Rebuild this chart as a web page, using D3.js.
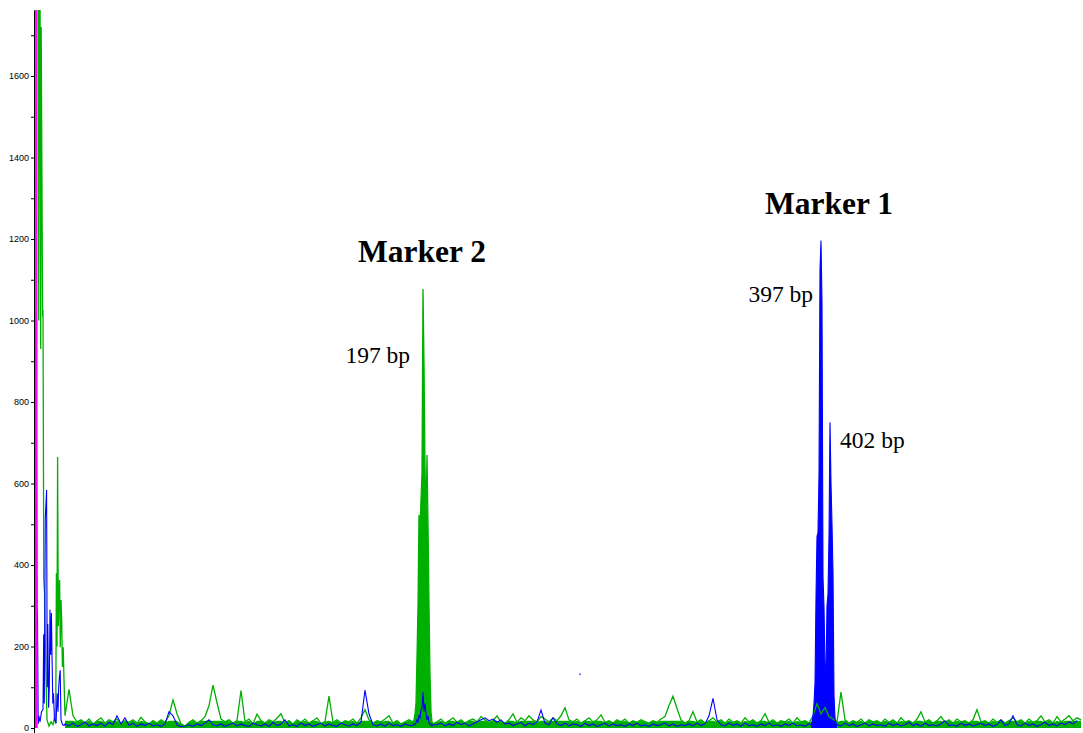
<!DOCTYPE html>
<html>
<head>
<meta charset="utf-8">
<script src="https://cdn.jsdelivr.net/npm/d3@7"></script>
<style>
body { margin: 0; background: #fff; }
svg { display: block; }
</style>
</head>
<body>
<div id="chart"></div>
<script>
// Electropherogram: marker peaks in green and blue dye channels

// Y axis ticks (RFU)
var yTicks = d3.range(0, 1800, 100);
var yMax = 1762;
var scanMax = 1048;

// Baseline noise, one reading every NOISE_STEP scans starting at NOISE_START
var NOISE_START = 30;
var NOISE_STEP = 4;
var greenNoise = [
	30, 95, 30, 15, 20, 12, 22, 10, 18, 25, 12, 20, 15, 22, 10, 18, 14, 20, 12, 26,
	15, 10, 18, 12, 20, 14, 30, 69, 35, 10, 5, 14, 20, 12, 18, 28, 55, 105, 62, 22,
	15, 20, 12, 18, 92, 15, 22, 10, 34, 18, 12, 20, 15, 24, 35, 12, 18, 10, 20, 14,
	22, 12, 18, 25, 10, 16, 78, 14, 20, 12, 18, 15, 22, 12, 25, 45, 20, 12, 18, 15,
	22, 30, 12, 18, 10, 15, 20, 15, 60, 600, 500, 130, 10, 15, 22, 12, 18, 25, 14, 20,
	12, 18, 22, 15, 28, 20, 14, 18, 30, 15, 12, 20, 35, 14, 25, 18, 30, 20, 15, 28,
	22, 15, 25, 18, 30, 50, 20, 15, 22, 12, 18, 25, 15, 20, 32, 14, 18, 12, 20, 15,
	22, 12, 18, 14, 20, 16, 12, 18, 14, 22, 28, 55, 78, 48, 20, 12, 18, 40, 15, 20,
	12, 18, 25, 15, 20, 12, 22, 14, 18, 12, 25, 15, 20, 12, 18, 35, 14, 20, 12, 18,
	15, 22, 12, 25, 15, 18, 12, 30, 60, 35, 50, 28, 22, 15, 88, 20, 12, 18, 14, 22,
	12, 20, 15, 18, 12, 22, 14, 20, 12, 25, 15, 18, 12, 22, 40, 15, 20, 12, 18, 28,
	14, 20, 12, 22, 15, 18, 12, 20, 45, 15, 18, 12, 22, 14, 20, 12, 18, 25, 15, 20,
	12, 22, 14, 18, 30, 15, 20, 12, 28, 15, 22, 30, 18, 25, 20
];
var blueNoise = [
	10, 5, 12, 4, 8, 15, 5, 10, 6, 12, 4, 14, 8, 30, 10, 25, 6, 12, 4, 10,
	6, 12, 5, 8, 4, 10, 40, 30, 8, 3, 5, 8, 4, 10, 6, 12, 20, 8, 5, 10,
	4, 8, 12, 5, 10, 6, 4, 12, 8, 5, 10, 4, 14, 6, 10, 20, 5, 8, 4, 12,
	6, 10, 4, 8, 12, 5, 10, 6, 4, 12, 8, 5, 10, 6, 15, 93, 35, 8, 5, 10,
	4, 12, 6, 8, 4, 10, 6, 12, 30, 40, 20, 8, 6, 8, 12, 5, 10, 6, 14, 8,
	12, 5, 10, 15, 20, 25, 18, 22, 14, 20, 10, 12, 6, 10, 14, 5, 12, 8, 15, 44,
	12, 8, 25, 10, 6, 12, 5, 10, 8, 4, 12, 6, 10, 4, 8, 12, 5, 10, 6, 8,
	4, 10, 6, 12, 5, 8, 4, 10, 6, 8, 12, 5, 10, 4, 8, 6, 10, 5, 12, 6,
	10, 30, 73, 20, 8, 5, 12, 6, 10, 4, 12, 6, 8, 4, 10, 6, 12, 5, 8, 4,
	10, 6, 12, 5, 8, 4, 10, 60, 900, 300, 600, 20, 8, 10, 5, 12, 6, 10, 4, 8,
	12, 5, 10, 6, 8, 4, 12, 6, 10, 5, 8, 14, 6, 10, 4, 12, 6, 8, 5, 10,
	18, 6, 8, 4, 12, 6, 10, 5, 8, 12, 6, 10, 4, 8, 20, 6, 10, 30, 8, 5,
	12, 6, 10, 4, 8, 14, 6, 10, 5, 12, 8, 15, 10, 18
];

// Primer / size-standard region at the start of the run
var greenLeftScan = [-0.5, 0, 3, 3.7, 4.4, 5, 5.7, 6.2, 7.6, 8, 8.8, 9.6, 10.4, 12, 14, 16, 18, 19.5, 20.7, 21.4,
	22, 22.6, 23.3, 24, 24.6, 25.3, 26, 26.7, 27.4, 28.2, 29];
var greenLeftValue = [0, 1900, 1900, 1000, 1900, 1900, 930, 1720, 1010, 1025, 363, 330, 200, 20, 5, 15, 8, 25, 10, 380,
	200, 665, 250, 331, 363, 198, 314, 265, 150, 198, 118];
var blueLeftScan = [0.5, 1.5, 2, 2.5, 3.2, 3.8, 5, 6.5, 8, 8.7, 9.3, 10.3, 11.6, 12.2, 12.8, 13.6, 14.3, 15, 15.7, 16.4,
	17.1, 17.8, 18.5, 19.5, 21, 22.2, 23, 23.7, 24.4, 25.2, 26, 27.5, 29];
var blueLeftValue = [0, 665, 300, 272, 10, 30, 15, 40, 45, 230, 60, 515, 584, 100, 255, 50, 100, 290, 180, 282,
	166, 60, 85, 20, 15, 85, 40, 100, 125, 142, 20, 8, 6];
var magentaScan = [0.6, 1.0, 1.6, 2.0];
var magentaValue = [0, 2000, 2000, 0];
var blackScan = [-0.4, -0.2, 0.1];
var blackValue = [490, 1018, 490];

// Marker 2 (197 bp), green channel, one reading per scan
var marker2Start = 378;
var marker2Green = [15, 20, 35, 60, 175, 300, 523, 478, 560, 625, 1077, 893, 640, 520, 670, 498, 300, 130, 40, 15, 10];
var marker2Blue = [6, 10, 8, 12, 20, 15, 30, 25, 45, 50, 88, 40, 60, 35, 20, 30, 12, 8, 10, 5, 8];

// Marker 1 (397 / 402 bp), blue channel
var marker1Start = 776;
var marker1Blue = [8, 15, 30, 60, 110, 320, 470, 480, 620, 1124, 1196, 1043, 370, 297, 150, 140, 300, 330, 470, 750,
	600, 500, 380, 80, 25, 12, 8];

// Stray blue reading
var blueSpeckScan = [544, 546];
var blueSpeckValue = [132, 132];

// Peak annotations
var markerNames = ["Marker 2", "Marker 1"];
var sizeLabels = ["197 bp", "397 bp", "402 bp"];

// ---- layout ----
var W = 1083, H = 733;
var PLOT_L = 35, PLOT_T = 10, PLOT_B = 728;
var NOISE_BAND = 18; // dense overplotted part of the baseline, drawn solid
var GREEN = "#00b000", BLUE = "#0000ff", MAGENTA = "#ff00ff";

var x = d3.scaleLinear().domain([0, scanMax]).range([PLOT_L, W]);
var y = d3.scaleLinear().domain([0, yMax]).range([PLOT_B, PLOT_T]);

var svg = d3.select("#chart").append("svg")
	.attr("width", W)
	.attr("height", H);

svg.append("clipPath").attr("id", "plotClip")
	.append("rect")
	.attr("x", PLOT_L - 0.8)
	.attr("y", PLOT_T)
	.attr("width", W - PLOT_L + 1)
	.attr("height", PLOT_B - PLOT_T + 1);

// ---- build series ----
var pairPoints = function(scans, values) {
	return scans.map(function(s, i) { return {s: s, v: values[i]}; });
};
var peakPoints = function(start, values) {
	return values.map(function(v, i) { return {s: start + i, v: v}; });
};
var noisePoints = function(values, skip) {
	return values.map(function(v, i) { return {s: NOISE_START + i * NOISE_STEP, v: v}; })
		.filter(function(p) {
			return !skip.some(function(r) { return p.s >= r[0] && p.s <= r[1]; });
		});
};
var byScan = function(a, b) { return a.s - b.s; };

var m2Range = [marker2Start, marker2Start + marker2Green.length - 1];
var m1Range = [marker1Start, marker1Start + marker1Blue.length - 1];

var m2GreenPts = peakPoints(marker2Start, marker2Green);
var m1BluePts = peakPoints(marker1Start, marker1Blue);

var greenMain = noisePoints(greenNoise, [m2Range]).concat(m2GreenPts).sort(byScan);
var blueMain = noisePoints(blueNoise, [m2Range, m1Range])
	.concat(peakPoints(marker2Start, marker2Blue), m1BluePts).sort(byScan);

var greenAll = pairPoints(greenLeftScan, greenLeftValue).concat(greenMain);
var blueAll = pairPoints(blueLeftScan, blueLeftValue).concat(blueMain);

var line = d3.line()
	.x(function(d) { return x(d.s); })
	.y(function(d) { return y(d.v); });
var area = d3.area()
	.x(function(d) { return x(d.s); })
	.y0(y(0))
	.y1(function(d) { return y(d.v); });
var band = d3.area()
	.x(function(d) { return x(d.s); })
	.y0(y(0))
	.y1(function(d) { return y(Math.min(d.v, NOISE_BAND)); });

var plot = svg.append("g").attr("clip-path", "url(#plotClip)");

// filled bodies first, traces on top
plot.append("path").datum(greenMain)
	.attr("d", band).attr("fill", GREEN);
plot.append("path").datum(m2GreenPts)
	.attr("d", area).attr("fill", GREEN);
plot.append("path").datum(m1BluePts)
	.attr("d", area).attr("fill", BLUE);

plot.append("path").datum(pairPoints(blackScan, blackValue))
	.attr("d", line).attr("fill", "none").attr("stroke", "#000").attr("stroke-width", 1.3);
plot.append("path").datum(greenAll)
	.attr("d", line).attr("fill", "none").attr("stroke", GREEN).attr("stroke-width", 1.3);
plot.append("path").datum(blueAll)
	.attr("d", line).attr("fill", "none").attr("stroke", BLUE).attr("stroke-width", 1.1);
plot.append("path").datum(pairPoints(magentaScan, magentaValue))
	.attr("d", line).attr("fill", "none").attr("stroke", MAGENTA).attr("stroke-width", 1.4);
plot.append("path").datum(pairPoints(blueSpeckScan, blueSpeckValue))
	.attr("d", line).attr("fill", "none").attr("stroke", BLUE).attr("stroke-width", 1.5).attr("opacity", 0.6);

// ---- axes ----
var yAxis = d3.axisLeft(y)
	.tickValues(yTicks)
	.tickSize(3)
	.tickSizeOuter(0)
	.tickPadding(2)
	.tickFormat(function(d) { return d % 200 === 0 ? d : ""; });

var gy = svg.append("g")
	.attr("transform", "translate(" + (PLOT_L - 1) + ",0)")
	.call(yAxis);
gy.selectAll("text")
	.attr("font-family", "'Liberation Sans', Arial, sans-serif")
	.attr("font-size", 9)
	.attr("fill", "#000");
gy.selectAll("line, path").attr("stroke", "#000");

var xAxis = d3.axisBottom(x).tickValues([0]).tickSize(5).tickFormat("");
svg.append("g")
	.attr("transform", "translate(-1," + PLOT_B + ")")
	.call(xAxis)
	.call(function(g) { g.select(".domain").remove(); });

// ---- annotations ----
var serif = "'Liberation Serif', 'Times New Roman', serif";
var peakTop = function(pts) { return d3.greatest(pts, function(d) { return d.v; }); };
var m2Top = peakTop(m2GreenPts);
var m1Top = peakTop(m1BluePts);
var m1Second = peakTop(m1BluePts.filter(function(d) { return d.s > m1Top.s + 4; }));

svg.append("text")
	.attr("x", x(m2Top.s) - 1).attr("y", y(m2Top.v) - 27)
	.attr("text-anchor", "middle")
	.attr("font-family", serif).attr("font-weight", "bold").attr("font-size", 31.5)
	.text(markerNames[0]);
svg.append("text")
	.attr("x", x(m1Top.s) + 8).attr("y", y(m1Top.v) - 27)
	.attr("text-anchor", "middle")
	.attr("font-family", serif).attr("font-weight", "bold").attr("font-size", 31.5)
	.text(markerNames[1]);

svg.append("text")
	.attr("x", x(m2Top.s) - 13).attr("y", y(m2Top.v) + 74)
	.attr("text-anchor", "end")
	.attr("font-family", serif).attr("font-size", 23.5)
	.text(sizeLabels[0]);
svg.append("text")
	.attr("x", x(m1Top.s) - 8).attr("y", y(m1Top.v) + 61)
	.attr("text-anchor", "end")
	.attr("font-family", serif).attr("font-size", 23.5)
	.text(sizeLabels[1]);
svg.append("text")
	.attr("x", x(m1Second.s) + 10).attr("y", y(m1Second.v) + 26)
	.attr("text-anchor", "start")
	.attr("font-family", serif).attr("font-size", 23.5)
	.text(sizeLabels[2]);
</script>
</body>
</html>
